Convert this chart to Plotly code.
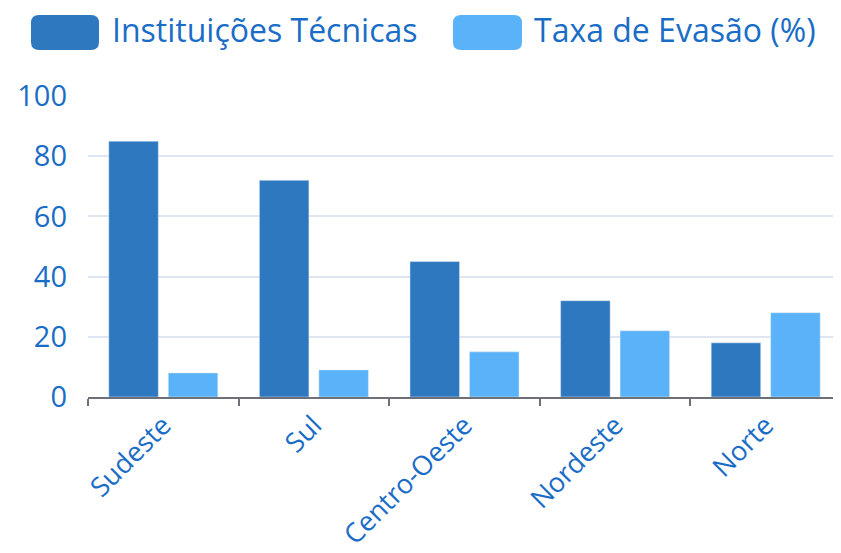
import plotly.graph_objects as go

categories = ["Sudeste", "Sul", "Centro-Oeste", "Nordeste", "Norte"]
instituicoes = [85, 72, 45, 32, 18]
evasao = [8, 9, 15, 22, 28]
series_names = ["Instituições Técnicas", "Taxa de Evasão (%)"]
colors = ["#2e78c0", "#5ab2f8"]
text_color = "#1a6dc6"
font_family = "Open Sans, Noto Sans, sans-serif"

# figure size (the page body adds an 8px margin)
W, H = 833, 545
ml, mr, mt, mb = 80, 0, 88, 156
pw, ph = W - ml - mr, H - mt - mb


def px(x):
    return (x - ml) / pw


def py(y):
    return (H - mb - y) / ph


def rounded_path(x0, y0, x1, y1, r):
    pts = []
    seg = [
        ("M", x0 + r, y0), ("L", x1 - r, y0), ("Q", x1, y0, x1, y0 + r),
        ("L", x1, y1 - r), ("Q", x1, y1, x1 - r, y1), ("L", x0 + r, y1),
        ("Q", x0, y1, x0, y1 - r), ("L", x0, y0 + r), ("Q", x0, y0, x0 + r, y0),
    ]
    for s in seg:
        if s[0] == "Q":
            pts.append(f"Q{px(s[1]):.5f},{py(s[2]):.5f} {px(s[3]):.5f},{py(s[4]):.5f}")
        else:
            pts.append(f"{s[0]}{px(s[1]):.5f},{py(s[2]):.5f}")
    return " ".join(pts) + " Z"


fig = go.Figure()
fig.add_trace(go.Bar(x=categories, y=instituicoes, name=series_names[0],
                     marker=dict(color=colors[0]), showlegend=False))
fig.add_trace(go.Bar(x=categories, y=evasao, name=series_names[1],
                     marker=dict(color=colors[1]), showlegend=False))

# custom legend: rounded swatches + labels (figure pixel positions)
legend_items = [(23, 91, 102), (445, 514, 524)]
shapes, annotations = [], []
for (sx0, sx1, tx), name, col in zip(legend_items, series_names, colors):
    shapes.append(dict(type="path", xref="paper", yref="paper",
                       path=rounded_path(sx0, 7, sx1, 42, 8),
                       fillcolor=col, line=dict(width=0)))
    annotations.append(dict(text=name, xref="paper", yref="paper",
                            x=px(tx), y=py(22), showarrow=False,
                            xanchor="left", yanchor="middle",
                            font=dict(size=32, color=text_color, family=font_family)))

fig.update_layout(
    width=W, height=H,
    margin=dict(l=ml, r=mr, t=mt, b=mb),
    plot_bgcolor="white", paper_bgcolor="white",
    barmode="group", bargap=0.21, bargroupgap=0.167,
    shapes=shapes, annotations=annotations,
    font=dict(family=font_family, color=text_color),
    xaxis=dict(showgrid=False, showline=True, linecolor="#6e7079", linewidth=1.5,
               ticks="outside", tickson="boundaries", ticklen=7, tickcolor="#6e7079",
               tickwidth=1.5, tickangle=-45, automargin=False,
               tickfont=dict(size=27, color=text_color, family=font_family)),
    yaxis=dict(range=[0, 100], dtick=20, showgrid=True, gridcolor="#e0e6f1",
               gridwidth=1.5, zeroline=False, showline=False, ticks="",
               ticklabelstandoff=20, automargin=False,
               tickfont=dict(size=29, color=text_color, family=font_family)),
)

fig.write_html("out.html")
